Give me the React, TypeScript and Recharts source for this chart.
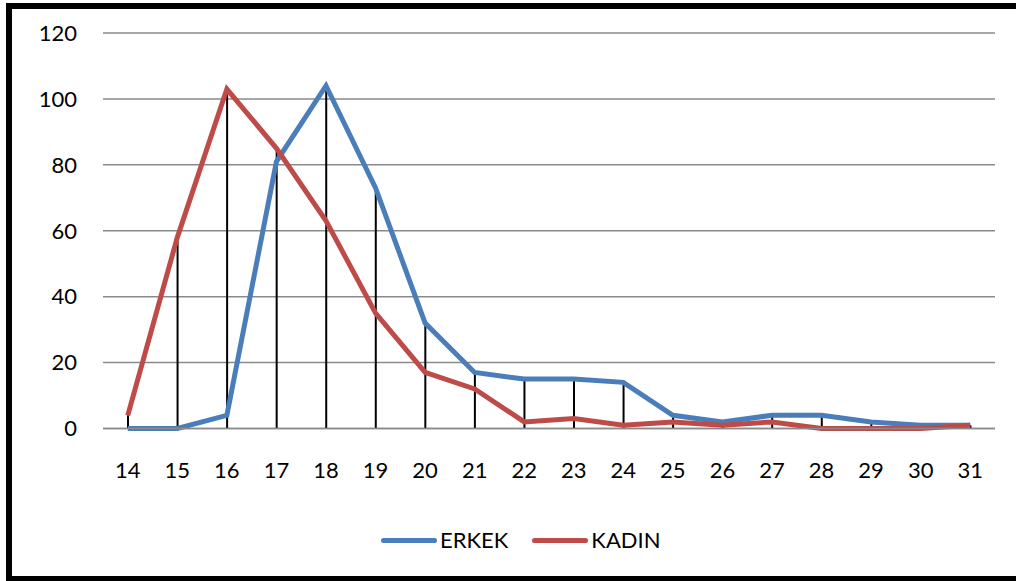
import { ComposedChart, Line, Bar, XAxis, YAxis, CartesianGrid } from "recharts";

const AGES = ["14", "15", "16", "17", "18", "19", "20", "21", "22", "23", "24", "25", "26", "27", "28", "29", "30", "31"];
const ERKEK = [0, 0, 4, 81, 104, 73, 32, 17, 15, 15, 14, 4, 2, 4, 4, 2, 1, 1];
const KADIN = [4, 58, 103, 85, 63, 35, 17, 12, 2, 3, 1, 2, 1, 2, 0, 0, 0, 1];
const Y_TICKS = [0, 20, 40, 60, 80, 100, 120];

const SERIES = [
  { key: "erkek", name: "ERKEK", color: "#4A7EBB" },
  { key: "kadin", name: "KADIN", color: "#BE4B48" },
];

const FONT = "Lato, 'Open Sans', sans-serif";
const GRID = "#8A8A8A";

const data = AGES.map((age, i) => ({
  age,
  erkek: ERKEK[i],
  kadin: KADIN[i],
  // drop line from the higher of the two points down to the axis
  top: Math.max(ERKEK[i], KADIN[i]),
}));

function ChartLegend() {
  return (
    <div
      style={{
        position: "absolute",
        top: 527,
        left: 381,
        display: "flex",
        alignItems: "center",
        fontFamily: FONT,
        fontSize: 22,
        lineHeight: "26px",
        color: "#000",
      }}
    >
      {SERIES.map((s, i) => (
        <div key={s.key} style={{ display: "flex", alignItems: "center", marginLeft: i ? 24 : 0 }}>
          <span
            style={{
              display: "inline-block",
              width: 56,
              height: 5,
              borderRadius: 3,
              background: s.color,
              marginRight: 3,
            }}
          />
          <span>{s.name}</span>
        </div>
      ))}
    </div>
  );
}

export default function App() {
  return (
    <div
      style={{
        position: "fixed",
        left: 0,
        top: 0,
        width: 1016,
        height: 581,
        overflow: "hidden",
        background: "#fff",
      }}
    >
      <div
        style={{
          position: "absolute",
          left: 6,
          top: 3,
          width: 1030,
          height: 579,
          border: "6px solid #000",
          boxSizing: "border-box",
        }}
      />
      <div style={{ position: "absolute", left: 0, top: 0 }}>
        <ComposedChart
          width={1016}
          height={581}
          data={data}
          margin={{ top: 33, right: 21, left: 0, bottom: 122.5 }}
        >
          <CartesianGrid vertical={false} stroke={GRID} strokeWidth={1.5} />
          <XAxis
            dataKey="age"
            height={30}
            axisLine={{ stroke: GRID, strokeWidth: 1.5 }}
            tickLine={false}
            tickMargin={28}
            interval={0}
            tick={{ fill: "#000", fontSize: 22, fontFamily: FONT }}
          />
          <YAxis
            width={103}
            domain={[0, 120]}
            ticks={Y_TICKS}
            axisLine={false}
            tickLine={false}
            tickMargin={20}
            tick={{ fill: "#000", fontSize: 22, fontFamily: FONT }}
          />
          {SERIES.map((s) => (
            <Line
              key={s.key}
              type="linear"
              dataKey={s.key}
              name={s.name}
              stroke={s.color}
              strokeWidth={5}
              dot={false}
              activeDot={false}
              isAnimationActive={false}
            />
          ))}
          <Bar dataKey="top" barSize={2} fill="#000" isAnimationActive={false} />
        </ComposedChart>
      </div>
      <ChartLegend />
    </div>
  );
}
